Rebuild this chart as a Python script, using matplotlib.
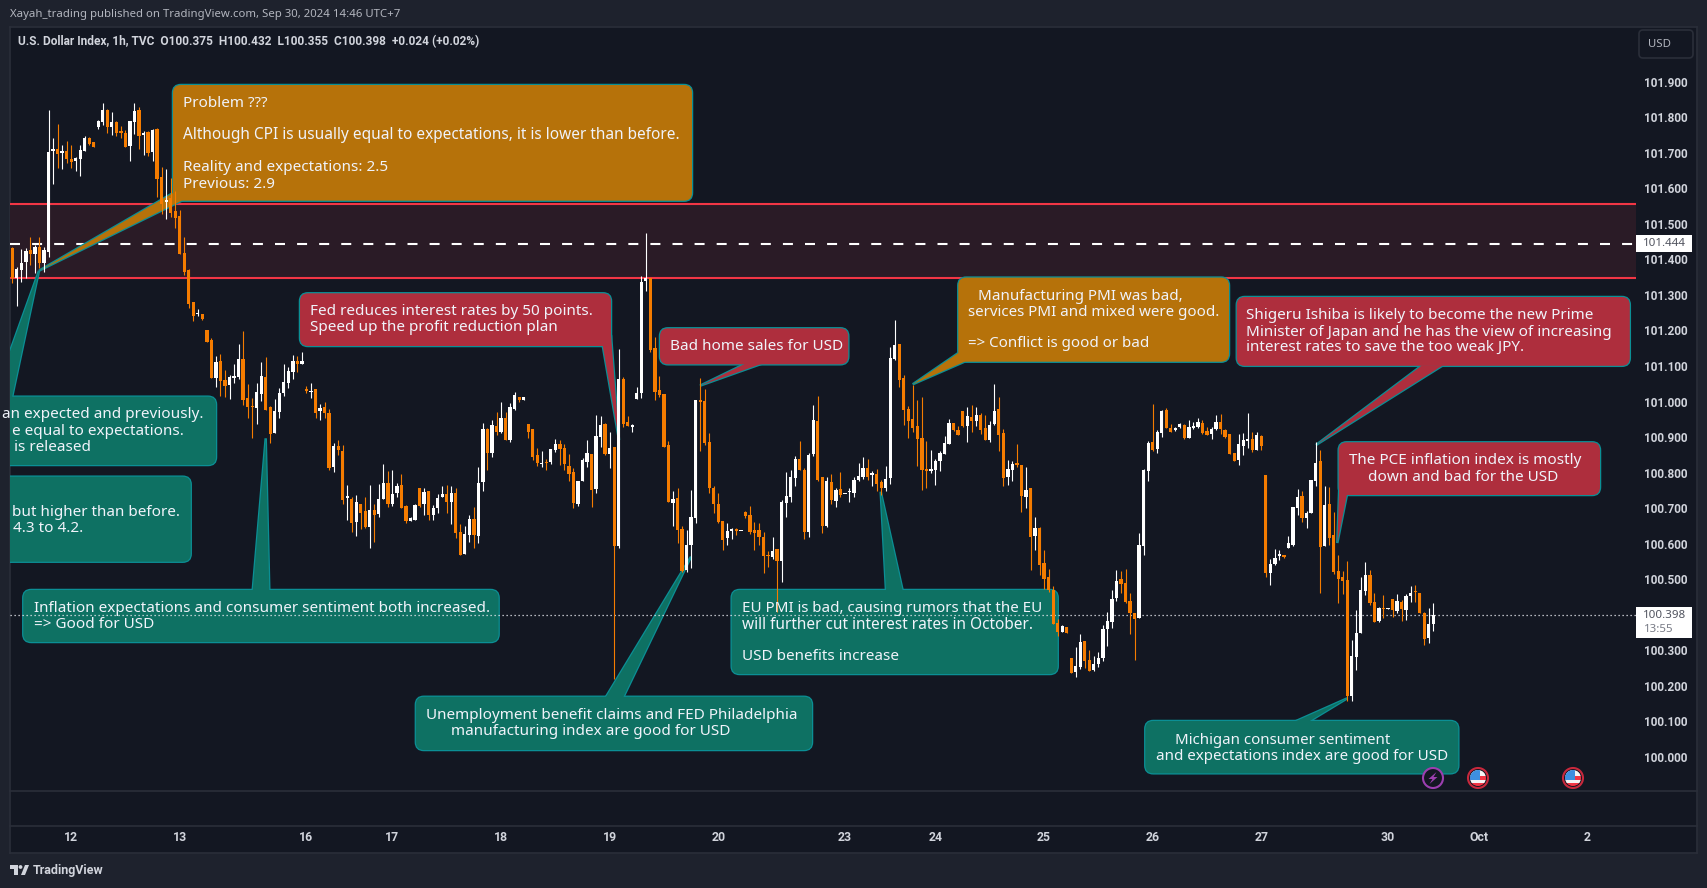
import matplotlib
matplotlib.use("Agg")
import matplotlib.pyplot as plt
from matplotlib.patches import Polygon, FancyBboxPatch, Rectangle, Circle
from matplotlib.transforms import Affine2D

W, H = 1707, 888

opens = [
101.431,101.347,101.370,101.393,101.426,101.415,101.434,101.391,101.422,101.706,
101.712,101.700,101.705,101.682,101.678,101.682,101.706,101.743,101.729,101.772,
101.786,101.820,101.773,101.787,101.758,101.755,101.719,101.787,101.820,101.751,
101.758,101.702,101.767,101.631,101.561,101.572,101.536,101.522,101.417,101.370,
101.279,101.245,101.246,101.201,101.173,101.067,101.114,101.060,101.046,101.067,
101.069,101.119,101.010,100.986,100.982,101.021,101.069,100.984,100.912,100.971,
101.023,101.051,101.084,101.114,101.106,101.035,101.027,101.034,100.973,100.986,
100.969,100.816,100.876,100.862,100.729,100.727,100.662,100.713,100.691,100.648,
100.696,100.683,100.726,100.772,100.711,100.743,100.764,100.706,100.665,100.666,
100.758,100.711,100.747,100.681,100.701,100.730,100.740,100.718,100.742,100.632,
100.571,100.625,100.670,100.622,100.774,100.922,100.856,100.931,100.913,100.953,
100.892,100.978,101.014,101.003,100.936,100.922,100.849,100.823,100.830,100.831,
100.864,100.881,100.869,100.820,100.801,100.712,100.775,100.831,100.853,100.754,
100.901,100.937,100.853,100.871,100.594,101.064,100.943,100.929,101.007,101.025,
101.340,101.347,101.150,101.033,101.021,100.878,100.714,100.728,100.641,100.526,
100.595,100.673,101.004,101.002,100.887,100.756,100.712,100.664,100.615,100.637,
100.640,100.635,100.688,100.681,100.639,100.639,100.620,100.568,100.562,100.584,
100.552,100.714,100.732,100.786,100.838,100.807,100.632,100.852,100.945,100.788,
100.651,100.774,100.721,100.753,100.739,100.745,100.744,100.778,100.788,100.814,
100.792,100.796,100.774,100.756,100.786,101.120,101.162,101.067,100.979,100.951,
100.930,100.898,100.810,100.805,100.808,100.832,100.853,100.881,100.940,100.920,
100.972,100.931,100.957,100.946,100.962,100.926,100.892,100.936,100.979,100.912,
100.787,100.808,100.827,100.821,100.730,100.756,100.622,100.645,100.545,100.505,
100.470,100.376,100.352,100.365,100.277,100.238,100.253,100.326,100.272,100.244,
100.261,100.277,100.359,100.380,100.446,100.500,100.489,100.438,100.406,100.391,
100.594,100.805,100.886,100.866,100.912,100.976,100.925,100.921,100.929,100.933,
100.898,100.926,100.929,100.939,100.917,100.908,100.924,100.942,100.921,100.908,
100.856,100.835,100.874,100.888,100.894,100.864,100.902,100.793,100.518,100.542,
100.566,100.568,100.588,100.596,100.700,100.734,100.673,100.687,100.777,100.832,
100.593,100.711,100.624,100.523,100.506,100.497,100.171,100.281,100.348,100.467,
100.511,100.436,100.382,100.418,100.416,100.444,100.410,100.436,100.413,100.452,
100.465,100.460,100.405,100.335,100.375]

highs = [
101.434,101.379,101.428,101.431,101.462,101.440,101.462,101.434,101.820,101.743,
101.781,101.722,101.733,101.722,101.689,101.722,101.747,101.745,101.729,101.792,
101.839,101.822,101.814,101.789,101.775,101.764,101.789,101.839,101.828,101.761,
101.761,101.767,101.771,101.661,101.654,101.628,101.593,101.539,101.462,101.372,
101.280,101.260,101.246,101.201,101.180,101.128,101.133,101.090,101.074,101.105,
101.162,101.198,101.049,101.009,101.051,101.110,101.124,100.987,101.006,101.037,
101.107,101.096,101.131,101.128,101.138,101.043,101.051,101.034,100.993,100.999,
100.978,100.882,100.891,100.879,100.765,100.730,100.737,100.713,100.730,100.765,
100.711,100.768,100.824,100.804,100.807,100.772,100.796,100.709,100.674,100.711,
100.758,100.758,100.747,100.709,100.740,100.762,100.765,100.761,100.756,100.656,
100.650,100.681,100.702,100.817,100.939,100.925,100.948,100.970,101.000,100.970,
100.995,101.028,101.014,101.012,100.936,100.922,100.868,100.861,100.837,100.867,
100.894,100.892,100.881,100.853,100.812,100.777,100.840,100.892,100.853,100.962,
100.959,100.939,100.915,100.873,101.147,101.068,100.959,100.937,101.040,101.353,
101.473,101.347,101.181,101.072,101.021,100.889,100.748,100.756,100.650,100.639,
100.751,101.004,101.065,101.035,100.911,100.762,100.742,100.664,100.659,100.643,
100.643,100.637,100.693,100.706,100.662,100.657,100.634,100.578,100.620,100.584,
100.723,100.803,100.807,100.847,100.889,100.812,100.854,100.990,101.016,100.788,
100.789,100.796,100.758,100.801,100.741,100.756,100.789,100.826,100.843,100.838,
100.805,100.809,100.779,100.819,101.153,101.230,101.162,101.075,100.988,101.047,
101.005,101.012,100.889,100.864,100.838,100.862,100.903,100.950,100.940,100.930,
100.974,100.984,100.990,100.984,100.967,100.962,100.944,101.050,101.012,100.922,
100.836,100.834,100.881,100.822,100.817,100.756,100.676,100.648,100.582,100.528,
100.481,100.387,100.371,100.365,100.277,100.310,100.345,100.326,100.300,100.283,
100.295,100.371,100.408,100.469,100.527,100.522,100.530,100.462,100.406,100.629,
100.811,100.888,100.992,100.919,100.977,100.983,100.938,100.929,100.940,100.936,
100.947,100.943,100.955,100.947,100.927,100.927,100.963,100.964,100.924,100.908,
100.856,100.910,100.912,100.969,100.913,100.913,100.905,100.793,100.558,100.584,
100.582,100.568,100.621,100.704,100.753,100.748,100.691,100.779,100.885,100.863,
100.762,100.760,100.689,100.568,100.522,100.551,100.328,100.413,100.507,100.549,
100.527,100.460,100.422,100.455,100.418,100.444,100.458,100.441,100.457,100.480,
100.483,100.460,100.407,100.418,100.432]

lows = [
101.333,101.269,101.337,101.347,101.384,101.362,101.375,101.365,101.408,101.612,
101.658,101.653,101.672,101.656,101.650,101.635,101.706,101.722,101.717,101.768,
101.778,101.757,101.750,101.747,101.743,101.715,101.678,101.753,101.710,101.694,
101.691,101.678,101.575,101.528,101.514,101.518,101.489,101.416,101.356,101.264,
101.227,101.241,101.229,101.168,101.067,101.042,101.016,101.013,101.007,101.051,
101.063,100.990,100.954,100.898,100.936,101.001,100.976,100.884,100.912,100.954,
101.016,101.039,101.063,101.084,101.106,101.025,101.011,100.954,100.948,100.955,
100.807,100.802,100.849,100.711,100.668,100.633,100.621,100.641,100.645,100.588,
100.604,100.674,100.725,100.704,100.707,100.732,100.699,100.659,100.664,100.666,
100.704,100.680,100.666,100.667,100.686,100.730,100.687,100.656,100.615,100.569,
100.571,100.606,100.587,100.603,100.747,100.807,100.845,100.906,100.911,100.892,
100.887,100.976,101.000,101.003,100.898,100.836,100.819,100.817,100.807,100.824,
100.859,100.822,100.807,100.775,100.701,100.707,100.775,100.815,100.704,100.744,
100.873,100.850,100.812,100.218,100.589,100.928,100.931,100.915,101.007,101.009,
101.312,101.138,101.004,101.012,100.873,100.718,100.650,100.601,100.521,100.521,
100.531,100.659,100.862,100.878,100.744,100.686,100.659,100.582,100.596,100.613,
100.625,100.635,100.671,100.627,100.582,100.596,100.517,100.535,100.556,100.409,
100.493,100.676,100.718,100.762,100.807,100.612,100.620,100.847,100.775,100.629,
100.648,100.712,100.704,100.732,100.739,100.718,100.730,100.775,100.782,100.779,
100.761,100.749,100.737,100.749,100.768,101.117,101.042,100.934,100.897,100.915,
100.820,100.751,100.756,100.798,100.764,100.805,100.853,100.881,100.918,100.906,
100.929,100.887,100.915,100.931,100.908,100.892,100.885,100.933,100.862,100.761,
100.765,100.775,100.817,100.690,100.700,100.526,100.582,100.512,100.472,100.465,
100.374,100.341,100.352,100.350,100.236,100.225,100.246,100.250,100.241,100.242,
100.253,100.270,100.312,100.364,100.439,100.462,100.432,100.345,100.274,100.391,
100.568,100.777,100.861,100.856,100.901,100.926,100.915,100.917,100.926,100.894,
100.898,100.922,100.926,100.910,100.906,100.894,100.920,100.908,100.898,100.853,
100.833,100.822,100.849,100.868,100.858,100.864,100.865,100.507,100.485,100.540,
100.553,100.560,100.588,100.594,100.680,100.661,100.644,100.687,100.762,100.462,
100.593,100.596,100.516,100.432,100.458,100.158,100.158,100.244,100.348,100.455,
100.427,100.380,100.380,100.391,100.416,100.394,100.406,100.383,100.385,100.436,
100.436,100.404,100.314,100.321,100.355]

closes = [
101.347,101.372,101.391,101.424,101.415,101.436,101.391,101.426,101.702,101.708,
101.696,101.702,101.682,101.674,101.685,101.708,101.743,101.725,101.717,101.789,
101.820,101.773,101.786,101.755,101.757,101.717,101.789,101.817,101.747,101.755,
101.699,101.764,101.626,101.556,101.567,101.531,101.517,101.416,101.364,101.274,
101.241,101.248,101.231,101.168,101.067,101.111,101.058,101.044,101.069,101.069,
101.119,101.005,100.984,100.984,101.027,101.072,100.976,100.908,100.973,101.023,
101.055,101.086,101.114,101.106,101.114,101.031,101.031,100.968,100.983,100.968,
100.813,100.875,100.863,100.723,100.731,100.659,100.716,100.687,100.647,100.694,
100.681,100.727,100.772,100.711,100.741,100.762,100.700,100.664,100.671,100.708,
100.707,100.745,100.680,100.700,100.728,100.740,100.718,100.742,100.629,100.569,
100.627,100.670,100.625,100.770,100.922,100.854,100.934,100.913,100.953,100.892,
100.984,101.019,101.003,101.012,100.913,100.844,100.826,100.827,100.826,100.867,
100.880,100.867,100.823,100.796,100.714,100.775,100.836,100.854,100.751,100.903,
100.934,100.853,100.868,100.594,101.064,100.937,100.931,100.932,101.025,101.336,
101.347,101.145,101.028,101.019,100.873,100.718,100.725,100.639,100.524,100.596,
100.674,101.003,101.000,100.883,100.756,100.712,100.662,100.610,100.636,100.640,
100.637,100.637,100.678,100.632,100.631,100.618,100.566,100.564,100.580,100.550,
100.718,100.734,100.789,100.839,100.807,100.634,100.850,100.948,100.779,100.651,
100.777,100.723,100.751,100.737,100.741,100.748,100.779,100.791,100.814,100.789,
100.798,100.768,100.756,100.782,101.122,101.159,101.061,100.976,100.945,100.926,
100.895,100.808,100.805,100.810,100.833,100.854,100.883,100.940,100.920,100.906,
100.931,100.958,100.946,100.962,100.920,100.892,100.934,100.974,100.907,100.786,
100.810,100.825,100.822,100.733,100.751,100.620,100.644,100.540,100.501,100.470,
100.374,100.351,100.367,100.350,100.236,100.255,100.323,100.270,100.241,100.261,
100.277,100.359,100.382,100.444,100.494,100.487,100.435,100.406,100.388,100.596,
100.807,100.882,100.863,100.914,100.973,100.926,100.915,100.924,100.936,100.896,
100.928,100.931,100.942,100.912,100.906,100.922,100.942,100.922,100.901,100.853,
100.833,100.880,100.891,100.894,100.864,100.905,100.875,100.518,100.542,100.559,
100.568,100.563,100.601,100.703,100.731,100.673,100.686,100.779,100.828,100.591,
100.708,100.616,100.519,100.500,100.494,100.171,100.283,100.348,100.469,100.511,
100.432,100.380,100.418,100.416,100.418,100.413,100.438,100.415,100.452,100.460,
100.463,100.405,100.332,100.375,100.398]

price_ticks = [100.0, 100.1, 100.2, 100.3, 100.5, 100.6, 100.7, 100.8, 100.9,
               101.0, 101.1, 101.2, 101.3, 101.4, 101.5, 101.6, 101.7, 101.8, 101.9]
day_positions = [13, 37, 65, 84, 108, 132, 156, 184, 204, 228, 252, 276, 304, 324, 348]
day_labels = ["12", "13", "16", "17", "18", "19", "20", "23", "24", "25", "26", "27", "30", "Oct", "2"]

zone_top, zone_bottom = 101.556, 101.347
zone_mid = 101.444
last_price = 100.398

BG = "#131722"
OUTER = "#1e222d"
LINE = "#2a2e39"
UP = "#ffffff"
DOWN = "#f57c00"
TXT = "#f0f3fa"
AXT = "#d1d4dc"
TEAL_F, RED_F, ORG_F = "#0e7163", "#ae2e3d", "#b6720a"
EDGE = "#0b8f95"
FONT = "Noto Sans"
CHROME = "Roboto"

plt.rcParams["font.family"] = [FONT, "DejaVu Sans"]
fig = plt.figure(figsize=(W / 100, H / 100), dpi=100, facecolor=OUTER)
px = Affine2D().scale(1, -1).translate(0, H)
T = Affine2D()


def rect(x0, y0, x1, y1):
    return [x0 / W, 1 - y1 / H, (x1 - x0) / W, (y1 - y0) / H]


panel = fig.add_axes(rect(10, 27, 1697, 853), facecolor=BG)
panel.set_xticks([]); panel.set_yticks([])
for s in panel.spines.values():
    s.set_color(LINE); s.set_linewidth(1.2)

ax = fig.add_axes(rect(10, 27, 1636, 791), facecolor="none")
ax.set_xlim(-0.51, 358.8)
ax.set_ylim(99.904, 102.054)
for s in ax.spines.values():
    s.set_visible(False)
ax.yaxis.tick_right()
ax.set_yticks(price_ticks)
ax.set_yticklabels([f"{p:.3f}" for p in price_ticks], fontsize=8.5, color=AXT, fontweight="bold",
                   fontfamily=CHROME)
ax.set_xticks(day_positions)
ax.set_xticklabels(day_labels, fontsize=8.8, color=AXT, fontweight="bold", fontfamily=CHROME)
ax.tick_params(axis="y", length=0, pad=5.6)
ax.tick_params(axis="x", length=0, pad=29)

ax.axhspan(zone_bottom, zone_top, facecolor="#2a1b26", edgecolor="none", zorder=1)
ax.axhline(zone_top, color="#f23645", lw=1.5, zorder=1.5)
ax.axhline(zone_bottom, color="#f23645", lw=1.5, zorder=1.5)
ax.axhline(zone_mid, color="#ffffff", lw=1.5, zorder=2, dashes=(4.8, 5.8))
ax.axhline(last_price, color="#e8eaf0", lw=0.9, zorder=3.5, dashes=(1, 2.2))


def callout(box, tail, fill):
    x0, y0, x1, y1 = box
    r = 8
    for lw, z, ec in ((1.8, 3.0, EDGE), (0, 3.1, "none")):
        b = FancyBboxPatch((x0 + r, y0 + r), x1 - x0 - 2 * r, y1 - y0 - 2 * r,
                           boxstyle=f"round,pad={r},rounding_size={r}",
                           transform=px, facecolor=fill, edgecolor=ec, lw=lw, zorder=z)
        ax.add_patch(b)
        if tail:
            ax.add_patch(Polygon(tail, closed=True, transform=px, facecolor=fill, edgecolor=ec,
                                 lw=lw, zorder=z, joinstyle="miter"))


def label(x, y, s, ha="left", size=11.0):
    ax.text(x, y + 1.2, s, transform=px, color=TXT, fontsize=size, ha=ha, va="center", zorder=5,
            clip_on=False)


callout((173, 85, 692, 200.7), [(173, 193), (181.7, 200.7), (39, 270.7)], ORG_F)
label(183, 102, "Problem ???")
label(183, 134, "Although CPI is usually equal to expectations, it is lower than before.", size=11.1)
label(183, 166.7, "Reality and expectations: 2.5")
label(183, 183, "Previous: 2.9")

callout((-60, 396.7, 216, 465), [(-6.6, 397.5), (12, 397.5), (39, 270.7)], TEAL_F)
label(204, 413.5, "an expected and previously.", ha="right")
label(184, 430, "e equal to expectations.", ha="right")
label(91, 446, "is released", ha="right")

callout((-60, 476.7, 190.7, 561.7), None, TEAL_F)
label(11.7, 511, "but higher than before.")
label(13, 527, "4.3 to 4.2.")

callout((23.3, 590, 498.6, 642), [(252.7, 590.5), (269.3, 590.5), (265.7, 438.3)], TEAL_F)
label(33.5, 607.7, "Inflation expectations and consumer sentiment both increased.")
label(33.5, 623.3, "=> Good for USD")

callout((300, 293.3, 611, 346), [(602.7, 345.5), (611, 335), (619, 440)], RED_F)
label(310, 310.7, "Fed reduces interest rates by 50 points.")
label(310, 326.7, "Speed up the profit reduction plan")

callout((660, 328.3, 848.3, 364.3), [(745, 363.8), (761.7, 363.8), (700, 385.7)], RED_F)
label(670, 345.7, "Bad home sales for USD")

callout((958.3, 277.6, 1229, 361.7), [(958.3, 353), (965.7, 361.2), (912.7, 384.3)], ORG_F)
label(978, 295, "Manufacturing PMI was bad,", size=10.9)
label(968, 311, "services PMI and mixed were good.", size=10.9)
label(968, 342.7, "=> Conflict is good or bad", size=10.9)

callout((1236.8, 297, 1629.8, 365.8), [(1422, 365.3), (1443, 365.3), (1316, 445)], RED_F)
label(1246.5, 314.6, "Shigeru Ishiba is likely to become the new Prime")
label(1246.5, 331, "Minister of Japan and he has the view of increasing")
label(1246.5, 346.2, "interest rates to save the too weak JPY.")

callout((1338.7, 442.3, 1600, 495), [(1339.2, 488), (1347, 494.5), (1337.3, 543)], RED_F)
label(1349, 459.3, "The PCE inflation index is mostly")
label(1368.5, 476, "down and bad for the USD")

callout((731.7, 590, 1057.7, 674), [(886, 590.5), (902.7, 590.5), (880.7, 491.7)], TEAL_F)
label(741.7, 607.7, "EU PMI is bad, causing rumors that the EU", size=10.9)
label(741.7, 623.3, "will further cut interest rates in October.", size=11.1)
label(741.7, 655.3, "USD benefits increase")

callout((415.9, 696.8, 812, 750), [(605.7, 697.3), (623.3, 697.3), (691, 556.7)], TEAL_F)
label(426, 714, "Unemployment benefit claims and FED Philadelphia")
label(450.7, 730.5, "manufacturing index are good for USD")

callout((1145.3, 721, 1458.3, 773.3), [(1295, 721.5), (1309, 721.5), (1347.3, 698.3)], TEAL_F)
label(1174.7, 739, "Michigan consumer sentiment", size=10.8)
label(1156, 755, "and expectations index are good for USD", size=10.9)

idx = list(range(len(opens)))
colors = [UP if c >= o else DOWN for o, c in zip(opens, closes)]
ax.vlines(idx, lows, highs, colors=colors, lw=0.8, zorder=4)
bottoms = [min(o, c) for o, c in zip(opens, closes)]
heights = [max(abs(c - o), 0.004) for o, c in zip(opens, closes)]
ax.bar(idx, heights, bottom=bottoms, width=0.72, color=colors, linewidth=0, zorder=4.1)


def frect(x0, y0, x1, y1, **kw):
    fig.add_artist(Rectangle((x0, H - y1), x1 - x0, y1 - y0, transform=T, **kw))


def ftext(x, y, s, **kw):
    fig.text(x / W, 1 - y / H, s, va="center", **kw)


for yy in (791, 825.6):
    fig.add_artist(plt.Line2D([10 / W, 1697 / W], [1 - yy / H] * 2, color=LINE, lw=1.2))

fig.add_artist(FancyBboxPatch((1642, H - 55), 48, 22, boxstyle="round,pad=3,rounding_size=4",
                              transform=T, facecolor=BG, edgecolor=LINE, lw=1.2))
ftext(1648, 44.5, "USD", color="#b2b5be", fontsize=8.2)

frect(1636, 235, 1692, 251.7, facecolor="#ffffff", edgecolor="none", zorder=6)
ftext(1686, 243.5, "101.444", color="#50535e", fontsize=8.3, ha="right", zorder=7)
frect(1636, 607.3, 1692, 637.7, facecolor="#ffffff", edgecolor="none", zorder=6)
ftext(1686, 615.5, "100.398", color="#50535e", fontsize=8.3, ha="right", zorder=7)
ftext(1644, 629.5, "13:55", color="#787b86", fontsize=8.3, ha="left", zorder=7)

ftext(10, 15, "Xayah_trading published on TradingView.com, Sep 30, 2024 14:46 UTC+7",
      color="#b2b5be", fontsize=8.2)
ftext(18, 42, "U.S. Dollar Index, 1h, TVC  O100.375  H100.432  L100.355  C100.398  +0.024 (+0.02%)",
      color="#d1d4dc", fontsize=8.6, fontweight="bold", fontfamily=CHROME)
ftext(33, 870, "TradingView", color="#d1d4dc", fontsize=9, fontweight="bold", fontfamily=CHROME)

for pts in ([(10, 865), (18, 865), (18, 875), (14, 875), (14, 869), (10, 869)],
            [(21, 875), (25, 865), (29, 865), (25, 875)]):
    fig.add_artist(Polygon([(x, H - y) for x, y in pts], transform=T,
                           facecolor="#d1d4dc", edgecolor="none"))
fig.add_artist(Circle((20.5, H - 867), 1.9, transform=T, facecolor="#d1d4dc", edgecolor="none"))


def event_icon(cx, cy, kind):
    Y = H - cy
    ring = "#9c3fb0" if kind == "bolt" else "#c8283c"
    fig.add_artist(Circle((cx, Y), 10, transform=T, facecolor=BG, edgecolor=ring, lw=1.5, zorder=8))
    if kind == "bolt":
        pts = [(cx + 3.5, Y + 6), (cx - 4.5, Y - 1), (cx - 0.5, Y - 1), (cx - 3.5, Y - 6),
               (cx + 4.5, Y + 1), (cx + 0.5, Y + 1)]
        fig.add_artist(Polygon(pts, transform=T, facecolor="#9c3fb0", edgecolor="none", zorder=9))
    else:
        clip = Circle((cx, Y), 8, transform=T)
        for y0, y1, c, x0, x1 in ((-8, -4.8, "#f23645", -8, 8), (-4.8, -1.6, "#f4f4f4", -8, 8),
                                  (-1.6, 1.6, "#f23645", -8, 8), (1.6, 8, "#f4f4f4", -8, 8),
                                  (-1.6, 8, "#3d8fe0", -8, 2)):
            r = Rectangle((cx + x0, Y + y0), x1 - x0, y1 - y0, transform=T, facecolor=c,
                          edgecolor="none", zorder=9)
            fig.add_artist(r)
            r.set_clip_path(clip)


event_icon(1433, 778, "bolt")
event_icon(1478, 778, "flag")
event_icon(1573, 778, "flag")

fig.savefig("out.png", dpi=100, facecolor=OUTER)
